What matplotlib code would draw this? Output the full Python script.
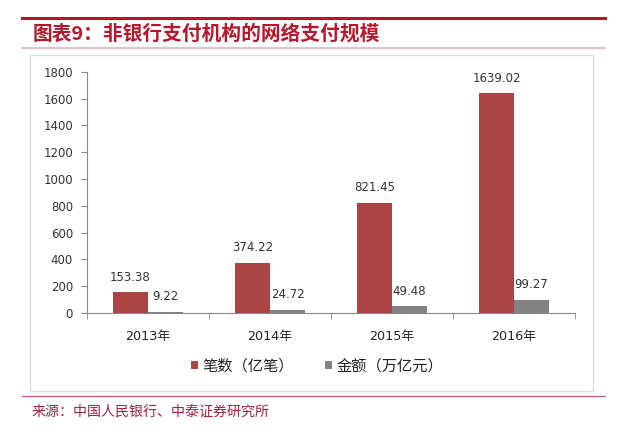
import matplotlib
matplotlib.use("Agg")
import matplotlib.pyplot as plt
from matplotlib.patches import Rectangle, Patch
from matplotlib.lines import Line2D
import numpy as np

plt.rcParams['font.family'] = ['DejaVu Sans', 'Noto Sans CJK SC']

categories = ['2013年', '2014年', '2015年', '2016年']
counts = [153.38, 374.22, 821.45, 1639.02]      # 笔数（亿笔）
amounts = [9.22, 24.72, 49.48, 99.27]           # 金额（万亿元）
series_names = ['笔数（亿笔）', '金额（万亿元）']
yticks = [0, 200, 400, 600, 800, 1000, 1200, 1400, 1600, 1800]
title = '图表9：非银行支付机构的网络支付规模'
source = '来源：中国人民银行、中泰证券研究所'

W, H = 640, 446
fig = plt.figure(figsize=(W / 100, H / 100), dpi=100)

def fx(px):
    return px / W

def fy(py):
    return 1 - py / H

# header / footer lines
fig.add_artist(Line2D([fx(22), fx(605)], [fy(18), fy(18)], color='#c0102a', lw=2.2))
fig.add_artist(Line2D([fx(22), fx(605)], [fy(48), fy(48)], color='#e3b5bf', lw=1.2))
fig.add_artist(Line2D([fx(22), fx(605)], [fy(396), fy(396)], color='#b86070', lw=0.9))

# chart frame
fig.add_artist(Rectangle((fx(30), fy(391)), fx(593) - fx(30), fy(55) - fy(391),
                         fill=False, edgecolor='#dcdcdc', lw=1.0))

fig.text(fx(33), fy(34), title, fontsize=14.2, fontweight='bold', color='#b5172c',
         family=['Noto Sans CJK SC'], va='center', ha='left')
fig.text(fx(32), fy(412), source, fontsize=10.1, color='#a32040',
         family=['Noto Sans CJK SC'], va='center', ha='left')

# axes
left, right, bottom, top = 87, 575, 313, 71.7
ax = fig.add_axes([fx(left), fy(bottom), fx(right) - fx(left), fy(top) - fy(bottom)])
x = np.arange(len(categories))
bw = 0.287
red = '#ab4444'
gray = '#828282'
ax.bar(x - bw / 2, counts, bw, color=red, label=series_names[0])
ax.bar(x + bw / 2, amounts, bw, color=gray, label=series_names[1])

for xi, v in zip(x - bw / 2, counts):
    ax.annotate(f'{v:.2f}', (xi, v), xytext=(0, 11), textcoords='offset points',
                ha='center', va='center', fontsize=8.5, color='#333333')
for xi, v in zip(x + bw / 2, amounts):
    ax.annotate(f'{v:.2f}', (xi, v), xytext=(0, 11), textcoords='offset points',
                ha='center', va='center', fontsize=8.5, color='#333333')

ax.set_xlim(-0.5, len(categories) - 0.5)
ax.set_ylim(0, 1800)
ax.set_yticks(yticks)
ax.set_yticklabels([str(t) for t in yticks])
ax.set_xticks(x)
ax.set_xticklabels(categories, fontsize=9.2, color='#222222')
ax.set_xticks(np.arange(-0.5, len(categories), 1.0), minor=True)
ax.tick_params(axis='x', which='major', length=0, pad=12)
ax.tick_params(axis='x', which='minor', length=4, color='#888888', direction='out')
ax.tick_params(axis='y', length=4, color='#888888', direction='out', pad=6,
               labelsize=8.5, labelcolor='#333333')
for s in ['top', 'right']:
    ax.spines[s].set_visible(False)
ax.spines['left'].set_color('#888888')
ax.spines['bottom'].set_color('#888888')
ax.patch.set_alpha(0)

handles = [Patch(facecolor=red, label=series_names[0]), Patch(facecolor=gray, label=series_names[1])]
fig.legend(handles=handles, loc='center', bbox_to_anchor=(fx(317), fy(366)), ncol=2,
           frameon=False, prop={'family': ['Noto Sans CJK SC'], 'size': 11},
           handlelength=0.45, handleheight=0.45, handletextpad=0.3, columnspacing=2.0,
           labelcolor='#222222')

fig.savefig('out.png', dpi=100)
